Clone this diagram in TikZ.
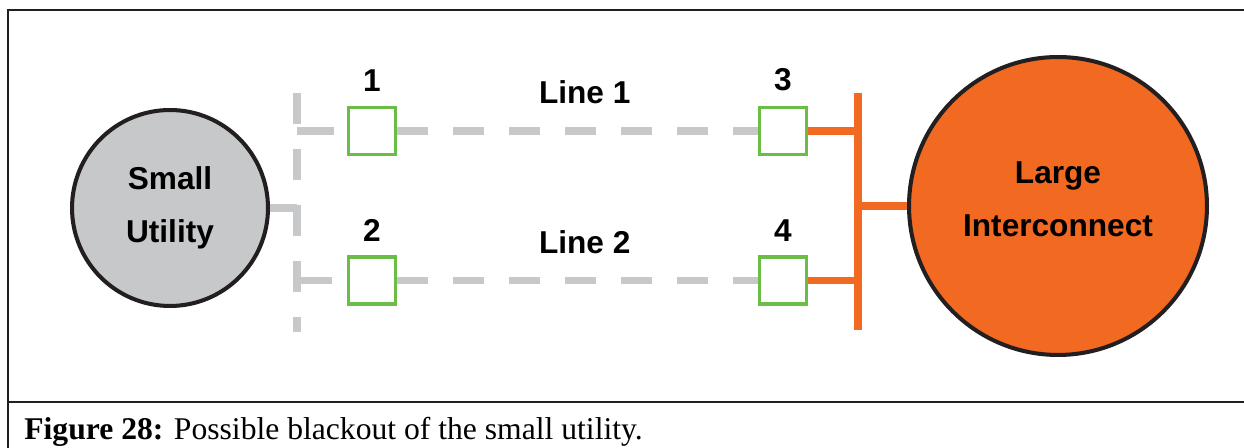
\documentclass[tikz,border=0pt]{standalone}
\usepackage{fontspec}
\setmainfont{Liberation Serif}
\setsansfont{Liberation Sans}
\usetikzlibrary{positioning}
\definecolor{ink}{HTML}{231F20}
\definecolor{utilgray}{HTML}{C7C8CA}
\definecolor{gridorange}{HTML}{F26922}
\definecolor{brkgreen}{HTML}{6BBE45}
\definecolor{deadgray}{HTML}{C7C8CA}
\tikzset{
  site/.style={circle, draw=ink, line width=2.3pt, fill=#1, align=center, inner sep=0pt,
    font=\sffamily\bfseries\fontsize{18}{30}\selectfont},
  brk/.style={draw=brkgreen, line width=2.2pt, fill=white, minimum size=0.94cm, inner sep=0pt},
  num/.style={font=\sffamily\bfseries\fontsize{18}{22}\selectfont, inner sep=0pt},
  dead/.style={draw=deadgray, line width=4pt, dash pattern=on 0.62cm off 0.5cm},
  live/.style={draw=gridorange, line width=4pt},
  frame/.style={draw=ink, line width=1.2pt},
}

\begin{document}
\begin{tikzpicture}[x=0.02cm, y=-0.02cm]
    \clip (0,0) rectangle (1244,448);
    \draw[frame] (1250,10) -| (8,452);
    \draw[frame] (8,402) -- (1250,402);
    \node[anchor=base west, inner sep=0pt, font=\fontsize{18}{20}\selectfont] (cap) at (24,440)
      {\textbf{Figure 28:} Possible blackout of the small utility.};

    \node[site=utilgray, minimum size=3.92cm] (su) at (170,208) {Small\\Utility};
    \node[site=gridorange, minimum size=5.96cm, text depth=0.28cm] (li) at (1058,206) {Large\\Interconnect};

    \node[brk, label={[num, label distance=0.28cm]above:1}] (b1) at (372,131) {};
    \node[brk, below=1.98cm of b1, label={[num, label distance=0.28cm]above:2}] (b2) {};
    \node[brk, label={[num, label distance=0.28cm]above:3}] (b3) at (783,131) {};
    \node[brk, below=1.98cm of b3, label={[num, label distance=0.28cm]above:4}] (b4) {};

    \coordinate (gtop) at (297,93);
    \coordinate (gbot) at (297,332);
    \coordinate (otop) at (858,93);
    \coordinate (obot) at (858,330);

    \draw[dead] (gtop) -- (gbot);
    \draw[dead, solid] (su.east) -- (su.east -| gtop);
    \draw[dead, solid, shorten >=0.26cm] (b1.west -| gtop) -- (b1.west);
    \draw[dead, solid, shorten >=0.3cm] (b2.west -| gtop) -- (b2.west);
    \draw[dead] (b1.east) -- node[num, pos=0.52, above=0.48cm] {Line 1} (b3.west);
    \draw[dead] (b2.east) -- node[num, pos=0.52, above=0.48cm] {Line 2} (b4.west);

    \draw[live] (otop) -- (obot);
    \draw[live] (b3.east) -- (b3.east -| otop);
    \draw[live] (b4.east) -- (b4.east -| otop);
    \draw[live] (li.west -| otop) -- (li.west);
  \end{tikzpicture}
\end{document}
